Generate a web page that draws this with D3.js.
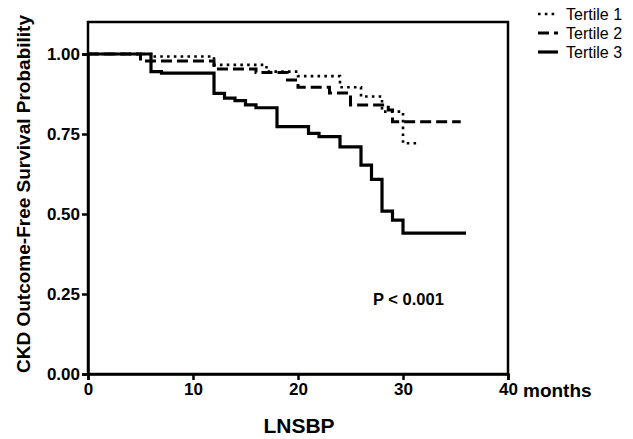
<!DOCTYPE html>
<html><head><meta charset="utf-8">
<script src="https://cdn.jsdelivr.net/npm/d3@7"></script>
<style>body{margin:0;background:#fff}svg{display:block}text{font-family:"Liberation Sans",Arial,sans-serif;font-weight:bold;fill:#000}</style>
</head><body>
<svg id="c" width="633" height="439"></svg>
<script>
const seriesNames = ["Tertile 1", "Tertile 2", "Tertile 3"];
// [time (months), survival probability] step points
const tertile1 = [[0,1],[6,0.992],[12,0.966],[17,0.945],[20,0.931],[24,0.896],[26,0.867],[28,0.82],[30,0.721],[31.6,0.721]];
const tertile2 = [[0,1],[5,0.978],[12,0.953],[16,0.942],[19,0.919],[20,0.896],[23,0.878],[25,0.841],[28.6,0.825],[29,0.788],[35.5,0.788]];
const tertile3 = [[0,1],[6,0.945],[7,0.94],[12,0.877],[13,0.862],[14,0.854],[15,0.841],[16,0.832],[18,0.773],[21,0.752],[22,0.742],[24,0.71],[26,0.653],[27,0.608],[28,0.509],[29,0.481],[30,0.44],[36,0.44]];
const xTicks = [0,10,20,30,40];
const yTicks = [0,0.25,0.5,0.75,1.0];
const pLabel = "P < 0.001";

const svg = d3.select("#c");
const L=88, R=508, B=374;
const x = d3.scaleLinear().domain([0,40]).range([L,R]);
const y = d3.scaleLinear().domain([0,1]).range([B,54]);
const T = y(1.1);

// frame
svg.append("rect").attr("x",L).attr("y",T).attr("width",R-L).attr("height",B-T)
  .attr("fill","none").attr("stroke","#000").attr("stroke-width",2.5);

const xa = svg.append("g").attr("transform",`translate(0,${B})`)
  .call(d3.axisBottom(x).tickValues(xTicks).tickFormat(d3.format("d")).tickSize(6).tickPadding(3));
const ya = svg.append("g").attr("transform",`translate(${L},0)`)
  .call(d3.axisLeft(y).tickValues(yTicks).tickFormat(d3.format(".2f")).tickSize(6).tickPadding(2));
[xa,ya].forEach(a=>{
  a.select(".domain").attr("stroke-width",2.5);
  a.selectAll(".tick line").attr("stroke-width",2.5);
  a.selectAll(".tick text").attr("font-size",17).attr("font-family","Liberation Sans, Arial").attr("font-weight","bold").attr("fill","#000");
});

const line = d3.line().x(d=>x(d[0])).y(d=>y(d[1])).curve(d3.curveStepAfter);
const styles = [
  {w:2.6, dash:"2.6,4.2"},
  {w:3, dash:"11,5"},
  {w:3.2, dash:null}
];
[tertile1,tertile2,tertile3].forEach((s,i)=>{
  svg.append("path").attr("d",line(s)).attr("fill","none").attr("stroke","#000")
    .attr("stroke-width",styles[i].w).attr("stroke-dasharray",styles[i].dash)
    .attr("stroke-linejoin","miter");
});

// legend
seriesNames.forEach((n,i)=>{
  const yy = 14 + i*19;
  svg.append("line").attr("x1",538).attr("x2",558).attr("y1",yy).attr("y2",yy)
    .attr("stroke","#000").attr("stroke-width",styles[i].w).attr("stroke-dasharray",styles[i].dash);
  svg.append("text").attr("x",566).attr("y",yy+6).attr("font-size",16)
    .style("font-weight","normal").text(n);
});

svg.append("text").attr("x",523).attr("y",397).attr("font-size",19).text("months");
svg.append("text").attr("x",299).attr("y",433).attr("text-anchor","middle").attr("font-size",21).text("LNSBP");
svg.append("text").attr("transform","translate(30,194) rotate(-90)").attr("text-anchor","middle").attr("font-size",19).text("CKD Outcome-Free Survival Probability");
svg.append("text").attr("x",373).attr("y",305).attr("font-size",16.5).text(pLabel);
</script>
</body></html>
